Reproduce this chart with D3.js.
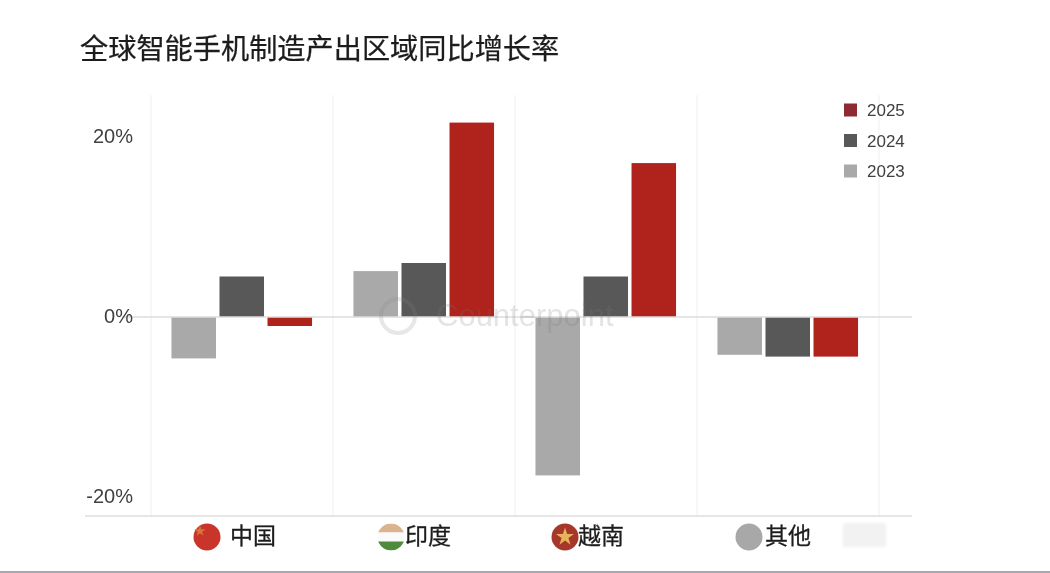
<!DOCTYPE html>
<html>
<head>
<meta charset="utf-8">
<script src="https://cdn.jsdelivr.net/npm/d3@7"></script>
<style>
  html, body { margin: 0; background: #fff; }
  svg { display: block; }
  text { font-family: "Noto Sans CJK SC", "Noto Sans", sans-serif; }
  .latin { font-family: "Liberation Sans", Arial, sans-serif; }
</style>
</head>
<body>
<div id="chart"></div>
<script>
const regions = ["中国", "印度", "越南", "其他"];
const years = ["2023", "2024", "2025"];
const legendYears = ["2025", "2024", "2023"];
const values2023 = [-4.6, 5.1, -17.6, -4.2];
const values2024 = [4.5, 6.0, 4.5, -4.4];
const values2025 = [-1.0, 21.6, 17.1, -4.4];
const yTicks = [20, 0, -20];
const yearColors = ["#a9a9a9", "#585858", "#b0201a"];
const legendColors = ["#8f2a33", "#585858", "#a9a9a9"];

const width = 1050, height = 573;
const svg = d3.select("#chart").append("svg").attr("width", width).attr("height", height);

// the source is a soft, upscaled screenshot
const defs = svg.append("defs");
defs.append("filter").attr("id", "soft").append("feGaussianBlur").attr("stdDeviation", 0.7);
defs.append("filter").attr("id", "softTitle").append("feGaussianBlur").attr("stdDeviation", 0.35);
defs.append("filter").attr("id", "softer").append("feGaussianBlur").attr("stdDeviation", 1.8);

const x = d3.scaleBand().domain(regions).range([151, 879]);
const xInner = d3.scaleBand().domain(years).range([0, x.bandwidth()]).paddingInner(0.0625).paddingOuter(0.426);
const y = d3.scaleLinear().domain([-20, 20]).range([497, 137]);

const seriesRows = [values2023, values2024, values2025];
const rows = regions.flatMap((region, i) =>
  years.map((year, j) => ({ region, year, value: seriesRows[j][i], color: yearColors[j] })),
);

svg.append("text")
  .attr("x", 80).attr("y", 59)
  .attr("font-size", 28.2)
  .attr("fill", "#1c1c1c")
  .attr("stroke", "#1c1c1c")
  .attr("stroke-width", 0.25)
  .attr("filter", "url(#softTitle)")
  .text("全球智能手机制造产出区域同比增长率");

const body = svg.append("g").attr("filter", "url(#soft)");

// faint dividers between the regions
body.append("g").selectAll("line")
  .data([...regions.map((d) => x(d)), x.range()[1]])
  .join("line")
  .attr("x1", (d) => d).attr("x2", (d) => d)
  .attr("y1", 95).attr("y2", 516)
  .attr("stroke", "#f5f5f5")
  .attr("stroke-width", 1.5);

// bars
body.append("g").selectAll("rect")
  .data(rows)
  .join("rect")
  .attr("x", (d) => x(d.region) + xInner(d.year))
  .attr("y", (d) => y(Math.max(0, d.value)))
  .attr("width", xInner.bandwidth() - 0.5)
  .attr("height", (d) => Math.abs(y(d.value) - y(0)))
  .attr("fill", (d) => d.color);

// zero line and baseline
body.append("line")
  .attr("x1", 122).attr("x2", 912)
  .attr("y1", y(0)).attr("y2", y(0))
  .attr("stroke", "#dcdcdc").attr("stroke-width", 1.5);
body.append("line")
  .attr("x1", 85).attr("x2", 912)
  .attr("y1", 516).attr("y2", 516)
  .attr("stroke", "#dedede").attr("stroke-width", 1.5);

// watermark over the bars
const mark = body.append("g").attr("opacity", 0.2);
mark.append("circle")
  .attr("cx", 398).attr("cy", 316).attr("r", 17)
  .attr("fill", "none").attr("stroke", "#888").attr("stroke-width", 4);
mark.append("text")
  .attr("class", "latin")
  .attr("x", 436).attr("y", 326)
  .attr("font-size", 31)
  .attr("fill", "#777")
  .text("Counterpoint");

// y tick labels
body.append("g").selectAll("text")
  .data(yTicks)
  .join("text")
  .attr("class", "latin")
  .attr("x", 133)
  .attr("y", (d) => y(d))
  .attr("dy", "0.3em")
  .attr("text-anchor", "end")
  .attr("font-size", 20)
  .attr("fill", "#3f3f3f")
  .text((d) => d + "%");

// year legend
const legend = body.append("g").selectAll("g")
  .data(legendYears)
  .join("g")
  .attr("transform", (d, i) => `translate(844,${110 + i * 30.5})`);
legend.append("rect")
  .attr("x", 0).attr("y", -6.5)
  .attr("width", 13).attr("height", 13)
  .attr("fill", (d, i) => legendColors[i]);
legend.append("text")
  .attr("class", "latin")
  .attr("x", 23)
  .attr("dy", "0.36em")
  .attr("font-size", 17)
  .attr("fill", "#3f3f3f")
  .text((d) => d);

// region labels with their round flag badges
const badgeX = [207, 391, 565, 749];
const labelX = [230, 405, 578, 765];
const badgeY = 537, badgeR = 13.5;
defs.append("clipPath").attr("id", "india")
  .append("circle").attr("cx", badgeX[1]).attr("cy", badgeY).attr("r", badgeR);

body.append("circle").attr("cx", badgeX[0]).attr("cy", badgeY).attr("r", badgeR).attr("fill", "#c9342a");
body.append("path")
  .attr("d", d3.symbol(d3.symbolStar, 40)())
  .attr("transform", `translate(${badgeX[0] - 7},${badgeY - 6})`)
  .attr("fill", "#d8743a");

const india = body.append("g").attr("clip-path", "url(#india)");
[["#d9b48f", -badgeR, 9], ["#fafafa", -badgeR + 9, 9], ["#4f8a3c", -badgeR + 18, 9]].forEach(([fill, dy, h]) => {
  india.append("rect")
    .attr("x", badgeX[1] - badgeR).attr("y", badgeY + dy)
    .attr("width", badgeR * 2).attr("height", h)
    .attr("fill", fill);
});

body.append("circle").attr("cx", badgeX[2]).attr("cy", badgeY).attr("r", badgeR).attr("fill", "#a5392b");
body.append("path")
  .attr("d", d3.symbol(d3.symbolStar, 100)())
  .attr("transform", `translate(${badgeX[2]},${badgeY})`)
  .attr("fill", "#e9b25c");

body.append("circle").attr("cx", badgeX[3]).attr("cy", badgeY).attr("r", badgeR).attr("fill", "#a8a8a8");

body.append("g").selectAll("text")
  .data(regions)
  .join("text")
  .attr("x", (d, i) => labelX[i])
  .attr("y", 544)
  .attr("font-size", 23)
  .attr("fill", "#1c1c1c")
  .attr("stroke", "#1c1c1c")
  .attr("stroke-width", 0.3)
  .text((d) => d);

// smudged-out patch at the right of the labels
svg.append("rect")
  .attr("x", 843).attr("y", 523)
  .attr("width", 43).attr("height", 24)
  .attr("fill", "#f2f2f2")
  .attr("filter", "url(#softer)");

// grey edge along the bottom of the screenshot
svg.append("line")
  .attr("x1", 0).attr("x2", width)
  .attr("y1", 572).attr("y2", 572)
  .attr("stroke", "#a6a8ad").attr("stroke-width", 2);
</script>
</body>
</html>
